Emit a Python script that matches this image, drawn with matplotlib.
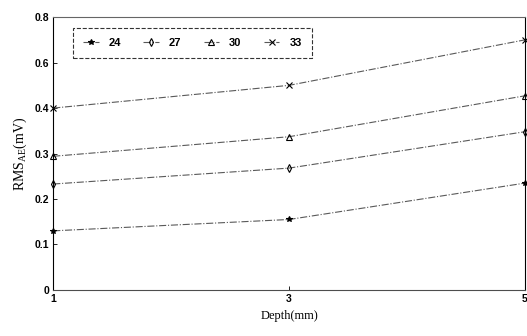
import matplotlib.pyplot as plt

plt.rcParams['mathtext.fontset'] = 'custom'
plt.rcParams['mathtext.rm'] = 'Liberation Serif'

# Data
depth = [1, 3, 5]
labels = ['24', '27', '30', '33']
rms_24 = [0.13, 0.155, 0.235]
rms_27 = [0.233, 0.268, 0.348]
rms_30 = [0.294, 0.337, 0.427]
rms_33 = [0.40, 0.45, 0.55]
markers = ['*', 'd', '^', 'x']

ytick_pos = [0, 0.1, 0.2, 0.3, 0.4, 0.5, 0.6]
ytick_txt = ['0', '0.1', '0.2', '0.3', '0.4', '0.6', '0.8']

fig = plt.figure(figsize=(5.27, 3.36), dpi=100)
ax = fig.add_axes([0.101, 0.137, 0.895, 0.812])

series = [rms_24, rms_27, rms_30, rms_33]
for vals, m, lab in zip(series, markers, labels):
    ax.plot(depth, vals, linestyle='-.', color='0.35', linewidth=0.8,
            marker=m, markersize=4, markeredgecolor='black',
            markerfacecolor='none' if m in ('d', '^') else 'black',
            markeredgewidth=0.8, label=lab, clip_on=False)

ax.set_xlim(1, 5)
ax.set_ylim(0, 0.6)
ax.set_xticks([1, 3, 5])
ax.set_xticklabels(['1', '3', '5'])
ax.set_yticks(ytick_pos)
ax.set_yticklabels(ytick_txt)
ax.tick_params(direction='in', length=3, width=0.6, labelsize=7.5, pad=3)
for t in ax.get_xticklabels() + ax.get_yticklabels():
    t.set_fontweight('bold')
    t.set_family('Liberation Sans')
for s in ax.spines.values():
    s.set_linewidth(0.8)
ax.spines['top'].set_color('0.4')
ax.spines['bottom'].set_color('0.3')

ax.set_xlabel('Depth(mm)', family='Liberation Serif', fontsize=9, labelpad=4)
ax.set_ylabel(r'RMS$_{\mathrm{AE}}$(mV)', family='Liberation Serif', fontsize=10, labelpad=4)

leg = ax.legend(loc='upper left', ncol=4, bbox_to_anchor=(0.042, 0.96),
                borderaxespad=0, frameon=True, fancybox=False,
                handlelength=1.4, handletextpad=0.9, columnspacing=2.0,
                borderpad=0.9,
                prop={'family': 'Liberation Sans', 'weight': 'bold', 'size': 8})
leg.get_frame().set_edgecolor('black')
leg.get_frame().set_linewidth(0.8)
leg.get_frame().set_linestyle('--')

fig.savefig('out.png', dpi=100)
